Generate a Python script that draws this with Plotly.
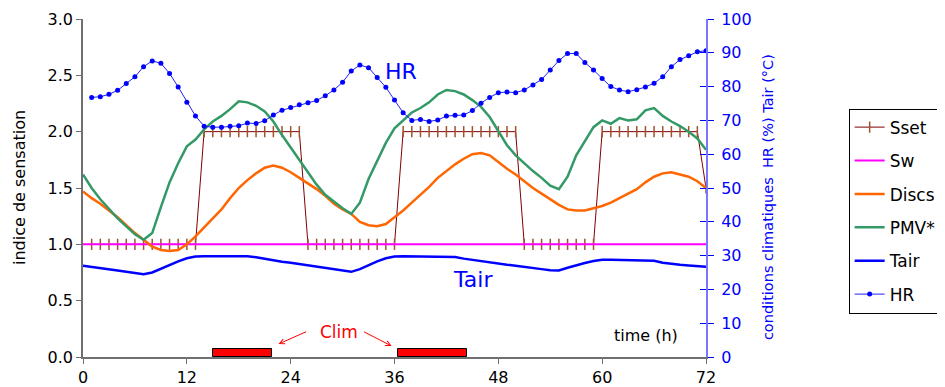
import plotly.graph_objects as go

# ---------------- data ----------------
hours = list(range(0, 73))          # 0..72
hours_1 = list(range(1, 73))        # 1..72

pmv = [1.62, 1.50, 1.40, 1.31, 1.23, 1.16, 1.09, 1.04, 1.10, 1.33,
       1.55, 1.72, 1.87, 1.93, 2.02, 2.09, 2.14, 2.20, 2.27, 2.26,
       2.23, 2.18, 2.09, 1.97, 1.86, 1.75, 1.64, 1.53, 1.44, 1.38,
       1.32, 1.27, 1.37, 1.58, 1.74, 1.90, 2.03, 2.10, 2.17, 2.21,
       2.26, 2.33, 2.37, 2.36, 2.33, 2.28, 2.22, 2.13, 2.01, 1.88,
       1.79, 1.72, 1.65, 1.59, 1.52, 1.49, 1.60, 1.79, 1.92, 2.04,
       2.10, 2.07, 2.12, 2.10, 2.11, 2.19, 2.21, 2.14, 2.09, 2.05,
       2.00, 1.94, 1.84]

discs = [1.47, 1.41, 1.36, 1.30, 1.24, 1.17, 1.10, 1.04, 0.98, 0.95,
         0.94, 0.95, 1.00, 1.07, 1.15, 1.23, 1.31, 1.41, 1.50, 1.57,
         1.63, 1.68, 1.70, 1.68, 1.64, 1.59, 1.54, 1.49, 1.43, 1.36,
         1.31, 1.27, 1.20, 1.17, 1.16, 1.18, 1.24, 1.30, 1.37, 1.44,
         1.51, 1.59, 1.65, 1.71, 1.76, 1.80, 1.81, 1.79, 1.73, 1.67,
         1.62, 1.56, 1.50, 1.45, 1.40, 1.35, 1.31, 1.30, 1.30, 1.32,
         1.34, 1.37, 1.41, 1.45, 1.49, 1.55, 1.60, 1.63, 1.64, 1.62,
         1.60, 1.56, 1.50]

sw = [1.0] * 73

sset = [1.0] * 13 + [2.0] * 12 + [1.0] * 11 + [2.0] * 14 + [1.0] * 9 + [2.0] * 12 + [1.5]

tair = [27.0, 26.7, 26.3, 26.0, 25.6, 25.2, 24.8, 24.5, 25.0, 26.1,
        27.3, 28.3, 29.2, 29.7, 29.8, 29.8, 29.8, 29.8, 29.8, 29.8,
        29.5, 29.0, 28.6, 28.2, 27.9, 27.5, 27.2, 26.8, 26.4, 26.0,
        25.6, 25.2, 26.0, 27.2, 28.3, 29.2, 29.7, 29.8, 29.8, 29.8,
        29.8, 29.8, 29.8, 29.6, 29.1, 28.7, 28.3, 28.0, 27.6, 27.3,
        27.0, 26.6, 26.3, 26.0, 25.7, 25.6, 26.4, 27.2, 27.8, 28.4,
        28.8, 28.8, 28.7, 28.7, 28.6, 28.6, 28.5, 27.9, 27.5, 27.3,
        27.1, 26.9, 26.7]

hr = [76.8, 77.0, 77.7, 78.9, 80.9, 82.9, 85.9, 87.6, 86.9, 83.9,
      79.9, 75.4, 71.3, 68.3, 68.0, 68.0, 68.3, 68.4, 69.2, 69.1,
      69.9, 71.6, 73.0, 73.8, 74.6, 75.2, 75.9, 77.3, 79.0, 81.3,
      84.6, 86.4, 85.6, 82.7, 79.8, 76.0, 72.3, 70.0, 70.3, 69.7,
      70.1, 71.3, 71.5, 71.6, 72.9, 75.1, 76.8, 78.2, 78.4, 78.2,
      79.0, 80.5, 82.1, 84.9, 87.7, 89.8, 89.8, 87.1, 84.9, 82.4,
      80.0, 79.0, 78.5, 79.1, 79.9, 81.0, 82.9, 85.9, 88.0, 89.1,
      90.3, 90.6]

clim_start = [15.0, 36.4]
clim_end = [21.8, 44.4]
clim_height = [0.075, 0.075]

x_ticks = [0, 12, 24, 36, 48, 60, 72]

# ---------------- figure ----------------
FONT = "DejaVu Sans"
fig = go.Figure()

# Clim bars (no legend)
fig.add_trace(go.Bar(
    x=[(a + b) / 2 for a, b in zip(clim_start, clim_end)],
    y=clim_height,
    width=[b - a for a, b in zip(clim_start, clim_end)],
    base=0,
    marker=dict(color="#FF0000", line=dict(color="#000000", width=1)),
    showlegend=False, hoverinfo="skip"))

fig.add_trace(go.Scatter(
    x=hours_1, y=sset, name="Sset", mode="lines+markers", legendgroup="a",
    line=dict(color="#800000", width=1),
    marker=dict(symbol="line-ns", size=8,
                line=dict(color="#A0522D", width=1.5))))
fig.add_trace(go.Scatter(
    x=hours, y=sw, name="Sw", mode="lines", legendgroup="b",
    line=dict(color="#FF00FF", width=2)))
fig.add_trace(go.Scatter(
    x=hours, y=discs, name="Discs", mode="lines", legendgroup="c",
    line=dict(color="#FF6600", width=2.5)))
fig.add_trace(go.Scatter(
    x=hours, y=pmv, name="PMV*", mode="lines", legendgroup="d",
    line=dict(color="#339966", width=2.5)))
fig.add_trace(go.Scatter(
    x=hours, y=tair, name="Tair", mode="lines", legendgroup="e", yaxis="y2",
    line=dict(color="#0000FF", width=2.5)))
fig.add_trace(go.Scatter(
    x=hours_1, y=hr, name="HR", mode="lines+markers", legendgroup="f", yaxis="y2",
    line=dict(color="#2020FF", width=1),
    marker=dict(symbol="circle", size=5, color="#0000FF")))

# page body has an 8px default margin: size figure so plot area lands where the reference has it
fig.update_layout(
    width=937, height=379,
    margin=dict(l=75, r=239, t=11, b=30, autoexpand=False),
    paper_bgcolor="white", plot_bgcolor="white",
    font=dict(family=FONT, size=16, color="black"),
    showlegend=True,
    legend=dict(x=1.229, y=0.735, xanchor="left", yanchor="top",
                bordercolor="black", borderwidth=1, bgcolor="white",
                traceorder="grouped", tracegroupgap=8.3,
                font=dict(family=FONT, size=17, color="black")),
    xaxis=dict(range=[0, 72], tickvals=x_ticks, ticktext=[str(v) for v in x_ticks],
               showgrid=False, zeroline=False, showline=True, linecolor="#707070",
               linewidth=1.5, ticks="outside", ticklen=5, tickcolor="#707070",
               automargin=False,
               tickfont=dict(family=FONT, size=16, color="black")),
    yaxis=dict(range=[0, 3], dtick=0.5, tickformat=".1f",
               showgrid=False, zeroline=False, showline=True, linecolor="#707070",
               linewidth=1.5, ticks="outside", ticklen=5, tickcolor="#707070",
               automargin=False,
               tickfont=dict(family=FONT, size=16, color="black")),
    yaxis2=dict(range=[0, 100], dtick=10, overlaying="y", side="right", anchor="x",
                showgrid=False, zeroline=False, showline=True, linecolor="#7878FF",
                linewidth=2, ticks="outside", ticklen=6, tickcolor="#0000FF",
                ticklabelstandoff=4, automargin=False,
                tickfont=dict(family=FONT, size=16, color="#0000FF")),
    yaxis3=dict(range=[0, 100], dtick=10, overlaying="y", side="right", anchor="x",
                showgrid=False, zeroline=False, showline=False, showticklabels=False,
                ticks="inside", ticklen=6, tickcolor="#0000FF", automargin=False),
    bargap=0,
)

# dummy to activate yaxis3
fig.add_trace(go.Scatter(x=[None], y=[None], yaxis="y3", showlegend=False, hoverinfo="skip"))

annos = [
    dict(text="indice de sensation", xref="paper", yref="paper", x=-0.1027, y=0.5,
         xanchor="center", yanchor="middle",
         textangle=-90, showarrow=False, font=dict(family=FONT, size=16, color="black")),
    dict(text="conditions climatiques  HR (%) Tair (°C)", xref="paper", yref="paper",
         x=1.0995, y=0.473, xanchor="center", yanchor="middle",
         textangle=-90, showarrow=False,
         font=dict(family=FONT, size=14.5, color="#0000FF")),
    dict(text="HR", xref="x", yref="y2", x=36.7, y=84.6, showarrow=False,
         xanchor="center", yanchor="middle",
         font=dict(family=FONT, size=22, color="#0000FF")),
    dict(text="Tair", xref="x", yref="y2", x=45.1, y=22.8, showarrow=False,
         xanchor="center", yanchor="middle",
         font=dict(family=FONT, size=22, color="#0000FF")),
    dict(text="time (h)", xref="x", yref="y", x=65.1, y=0.19, showarrow=False,
         xanchor="center", yanchor="middle",
         font=dict(family=FONT, size=16, color="black")),
    dict(text="Clim", xref="x", yref="y", x=29.6, y=0.22, showarrow=False,
         xanchor="center", yanchor="middle",
         font=dict(family=FONT, size=17, color="#FF0000")),
    dict(text="", xref="x", yref="y", x=22.6, y=0.115, axref="x", ayref="y",
         ax=25.95, ay=0.23, showarrow=True, arrowhead=5, arrowsize=1,
         arrowwidth=1, arrowcolor="#FF0000"),
    dict(text="", xref="x", yref="y", x=35.66, y=0.098, axref="x", ayref="y",
         ax=32.3, ay=0.23, showarrow=True, arrowhead=5, arrowsize=1,
         arrowwidth=1, arrowcolor="#FF0000"),
]
fig.update_layout(annotations=annos)

fig.write_html("out.html")
